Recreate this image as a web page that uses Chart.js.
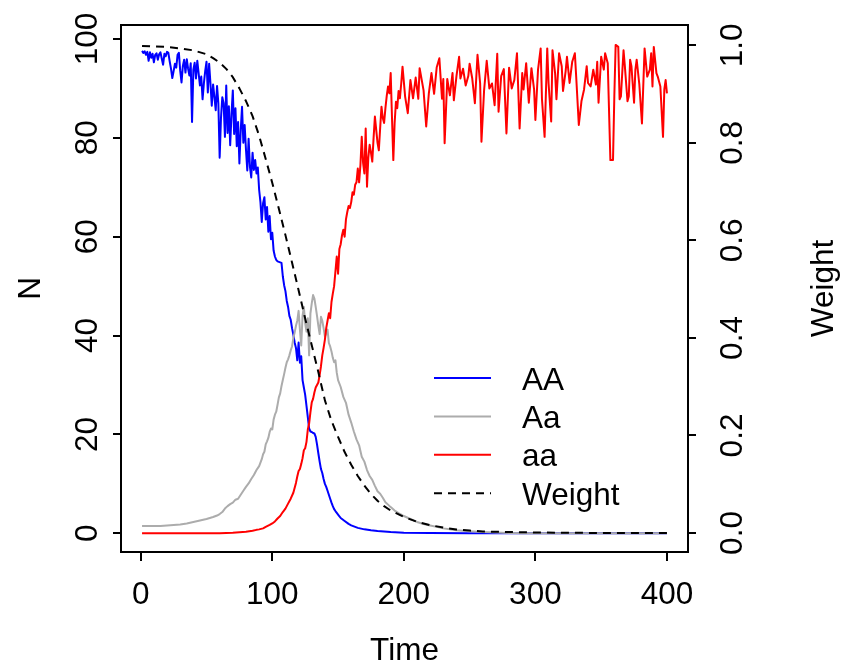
<!DOCTYPE html>
<html>
<head>
<meta charset="utf-8">
<script src="https://cdn.jsdelivr.net/npm/chart.js@4.4.0/dist/chart.umd.min.js"></script>
<style>
	html, body { margin: 0; padding: 0; background: #fff; }
	canvas { display: block; }
</style>
</head>
<body>
<canvas id="chart" width="844" height="668"></canvas>
<script>
// values
var xTicks = [0, 100, 200, 300, 400];
var nTicks = [0, 20, 40, 60, 80, 100];
var weightTicks = [0, 0.2, 0.4, 0.6, 0.8, 1.0];
var seriesNames = ['AA', 'Aa', 'aa', 'Weight'];

var timeAA = [1, 2, 3, 4, 5, 6, 7, 8, 9, 10, 11, 12, 13, 14, 15, 16, 17, 18, 19, 20,
	21, 22, 23, 24, 25, 26, 27, 28, 29, 30, 31, 32, 33, 34, 35, 36, 37, 38, 39, 40,
	41, 42, 43, 44, 45, 46, 47, 48, 49, 50, 51, 52, 53, 54, 55, 56, 57, 58, 59, 60,
	61, 62, 63, 64, 65, 66, 67, 68, 69, 70, 71, 72, 73, 74, 75, 76, 77, 78, 79, 80,
	81, 82, 83, 84, 85, 86, 87, 88, 89, 90, 91, 92, 93, 94, 95, 96, 97, 98, 99, 100,
	101, 102, 103, 104, 105, 106, 107, 108, 109, 110, 111, 112, 113, 114, 115, 116, 117, 118, 119, 120,
	121, 122, 123, 124, 125, 126, 127, 128, 129, 130, 131, 132, 133, 134, 135, 136, 137, 138, 139, 140,
	141, 142, 143, 144, 145, 146, 147, 148, 150, 152, 155, 158, 160, 165, 170, 175, 180, 190, 200, 220,
	250, 280, 400];
var countAA = [97.6, 97.2, 97.5, 96.8, 97.4, 95.6, 97.3, 96.2, 97.0, 95.3, 96.8, 97.1, 95.8, 96.9, 97.3, 96.0, 94.8, 97.0, 96.5, 97.4,
	97.2, 95.5, 94.0, 92.1, 93.5, 95.0, 94.2, 96.8, 97.2, 93.6, 91.2, 94.5, 95.8, 93.2, 95.9, 94.0, 92.6, 95.1, 83.2, 93.8,
	95.2, 92.0, 95.6, 93.1, 90.6, 92.4, 87.8, 91.0, 93.5, 95.4, 89.2, 95.0, 91.0, 86.5, 90.8, 88.3, 85.6, 90.5, 87.0, 76.0,
	84.0, 88.2, 87.0, 80.2, 90.6, 81.0, 86.4, 78.5, 84.8, 89.6, 80.8, 86.0, 78.3, 83.2, 74.8, 81.5, 86.3, 79.0, 82.6, 77.6,
	73.4, 79.8, 74.2, 72.0, 77.0, 73.5, 75.5, 72.8, 74.0, 69.5, 67.0, 63.0, 66.8, 68.0, 63.5, 66.0, 61.0, 64.2, 59.5, 60.8,
	57.2, 56.0, 55.3, 55.0, 54.9, 54.8, 54.7, 52.0, 50.2, 49.0, 47.0, 45.8, 44.0, 43.2, 41.5, 40.2, 38.6, 37.5, 35.0, 38.6,
	34.5, 35.8, 31.0, 29.5, 28.0, 25.8, 23.5, 21.2, 20.6, 20.5, 20.3, 20.2, 19.5, 18.0, 16.2, 14.5, 13.0, 12.2, 11.0, 10.0,
	9.4, 8.6, 7.8, 7.0, 6.2, 5.5, 4.9, 4.5, 3.8, 3.1, 2.5, 1.9, 1.6, 1.1, 0.8, 0.6, 0.45, 0.25, 0.12, 0.05,
	0.02, 0, 0];

var timeHet = [1, 5, 10, 15, 20, 25, 30, 35, 40, 45, 50, 55, 58, 60, 62, 64, 66, 68, 70, 72,
	74, 76, 78, 80, 82, 84, 86, 88, 90, 92, 93, 94, 95, 96, 97, 98, 99, 100, 101, 102,
	103, 104, 105, 106, 107, 108, 109, 110, 111, 112, 113, 114, 115, 116, 117, 118, 119, 120, 121, 122,
	123, 124, 125, 126, 127, 128, 129, 130, 131, 132, 133, 134, 135, 136, 137, 138, 139, 140, 141, 142,
	143, 144, 145, 146, 147, 148, 149, 150, 152, 154, 156, 158, 160, 162, 164, 166, 168, 170, 172, 174,
	176, 178, 180, 182, 184, 186, 188, 190, 193, 196, 200, 205, 210, 215, 220, 225, 230, 240, 250, 260,
	270, 280, 290, 300, 400];
var countHet = [1.5, 1.5, 1.5, 1.5, 1.6, 1.7, 1.8, 2.0, 2.3, 2.6, 2.9, 3.3, 3.6, 3.9, 4.3, 5.0, 5.5, 5.9, 6.2, 6.8,
	7.0, 7.8, 8.6, 9.4, 10.1, 11.0, 11.8, 12.8, 13.6, 15.0, 16.0, 16.5, 18.0, 18.6, 19.3, 20.5, 21.2, 21.0, 23.0, 24.0,
	24.6, 26.0, 27.5, 28.3, 29.8, 31.0, 32.2, 33.5, 34.6, 35.2, 36.0, 37.0, 37.8, 39.5, 40.6, 42.0, 43.0, 45.0, 41.2, 38.0,
	44.0, 45.8, 42.5, 40.8, 43.5, 36.0, 44.5, 46.5, 48.2, 47.5, 45.8, 44.0, 42.0, 40.3, 43.8, 43.0, 41.5, 39.8, 40.5, 41.2,
	38.5, 37.8, 36.8, 35.5, 34.6, 35.0, 32.5, 31.0, 29.6, 27.6, 26.4, 24.0, 22.4, 20.6, 19.0, 17.8, 15.5, 14.5, 12.8, 11.6,
	10.8, 9.6, 8.5, 8.0, 7.2, 6.3, 5.8, 5.3, 4.6, 4.1, 3.5, 2.9, 2.3, 1.9, 1.6, 1.3, 1.0, 0.6, 0.4, 0.25,
	0.15, 0.06, 0.02, 0, 0];

var timeaa = [1, 60, 65, 70, 75, 80, 85, 88, 90, 93, 95, 98, 100, 102, 104, 106, 108, 110, 112, 114,
	116, 118, 119, 120, 121, 122, 123, 124, 125, 126, 127, 128, 129, 130, 131, 132, 133, 134, 135, 136,
	137, 138, 139, 140, 141, 142, 143, 144, 145, 146, 147, 148, 149, 150, 151, 152, 153, 154, 155, 156,
	157, 158, 159, 160, 161, 162, 163, 164, 165, 166, 167, 168, 169, 170, 171, 172, 173, 174, 175, 176,
	177, 178, 179, 180, 181, 182, 183, 184, 185, 186, 187, 188, 189, 190, 191, 192, 193, 194, 195, 196,
	197, 198, 199, 201, 203, 205, 207, 209, 211, 212, 215, 217, 219, 221, 223, 225, 227, 229, 230, 231,
	233, 235, 237, 238, 240, 242, 243, 245, 247, 249, 250, 252, 254, 256, 258, 259, 261, 263, 265, 267,
	269, 271, 272, 274, 276, 278, 280, 282, 284, 286, 288, 290, 291, 293, 295, 297, 299, 300, 302, 304,
	305, 307, 309, 310, 312, 313, 315, 316, 318, 320, 321, 323, 324, 326, 328, 330, 331, 333, 335, 337,
	339, 340, 342, 344, 346, 347, 348, 350, 352, 353, 355, 357, 359, 360, 361, 363, 364, 365, 367, 368,
	370, 371, 372, 373, 375, 376, 377, 379, 381, 383, 385, 387, 388, 389, 390, 392, 393, 395, 397, 398,
	399, 400];
var countaa = [0, 0, 0.05, 0.1, 0.2, 0.3, 0.5, 0.7, 0.8, 1.0, 1.3, 1.7, 2.0, 2.4, 3.0, 3.5, 4.3, 5.0, 6.0, 7.0,
	8.2, 10.2, 11.5, 12.6, 13.0, 14.0, 15.2, 16.8, 17.2, 18.5, 21.0, 22.2, 24.5, 26.5, 27.2, 28.5, 29.5, 30.0, 30.5, 32.0,
	33.8, 36.0, 37.5, 39.2, 41.5, 43.0, 44.5, 43.5, 46.8, 48.5, 50.0, 53.0, 56.0, 52.5, 57.5, 58.5, 60.3, 61.4, 60.0, 63.5,
	65.0, 66.2, 65.8, 67.0, 69.0, 68.5, 70.5, 71.0, 73.8, 71.0, 74.5, 80.2, 75.0, 72.8, 81.9, 70.1, 76.0, 78.6, 77.0, 75.2,
	80.0, 84.3, 81.6, 79.0, 77.5, 82.0, 86.3, 84.0, 83.0, 86.0, 88.5, 90.4, 89.0, 93.1, 84.0, 75.5, 83.0, 87.3, 86.0, 89.5,
	88.0, 91.0, 94.4, 88.3, 85.0, 91.7, 88.0, 92.2, 87.9, 94.1, 89.6, 82.3, 89.0, 93.1, 88.9, 94.3, 96.1, 87.9, 91.9, 78.9,
	91.9, 88.6, 93.1, 87.6, 92.5, 96.4, 92.0, 94.0, 90.6, 92.5, 95.0, 92.0, 87.0, 96.8, 91.0, 79.2, 89.6, 95.6, 90.0, 91.0,
	86.6, 97.0, 85.3, 92.5, 93.9, 80.9, 94.2, 90.0, 91.7, 97.1, 81.9, 93.1, 89.8, 95.1, 87.1, 94.1, 89.8, 83.6, 93.8, 98.1,
	87.8, 80.2, 98.1, 91.1, 83.3, 97.7, 93.0, 87.8, 97.1, 94.5, 89.5, 93.5, 96.4, 91.1, 95.4, 97.1, 92.4, 82.6, 87.4, 89.8,
	94.5, 91.1, 90.4, 93.8, 90.8, 95.4, 87.1, 96.4, 93.8, 97.1, 95.1, 75.5, 75.5, 88.4, 98.8, 98.4, 87.8, 88.4, 97.7, 94.5,
	87.4, 88.4, 95.8, 94.5, 87.1, 93.8, 95.8, 90.8, 82.9, 98.1, 92.4, 93.8, 97.1, 90.4, 98.4, 93.1, 92.4, 90.4, 80.2, 89.8,
	91.7, 89.0];

var timeWeight = [1, 10, 20, 30, 40, 50, 55, 60, 65, 70, 75, 80, 85, 90, 95, 100, 105, 110, 115, 120,
	125, 130, 135, 140, 145, 150, 155, 160, 165, 170, 175, 180, 185, 190, 200, 210, 220, 230, 240, 250,
	260, 280, 300, 350, 400];
var weight = [0.999, 0.998, 0.997, 0.994, 0.990, 0.982, 0.974, 0.965, 0.952, 0.935, 0.912, 0.886, 0.855, 0.815, 0.767, 0.718, 0.665, 0.611, 0.555, 0.498,
	0.440, 0.385, 0.330, 0.272, 0.230, 0.197, 0.166, 0.140, 0.117, 0.097, 0.080, 0.066, 0.055, 0.046, 0.033, 0.023, 0.016, 0.011, 0.007, 0.005,
	0.003, 0.002, 0.001, 0, 0];

var FONT = '31.5px "Liberation Sans", Arial, sans-serif';

function pairUp(times, values) {
	return times.map(function(t, i) {
		return { x: t, y: values[i] };
	});
}

function fixTicks(list) {
	return function(scale) {
		scale.ticks = list.map(function(v) { return { value: v }; });
	};
}

function rotText(ctx, text, x, y) {
	ctx.save();
	ctx.translate(x, y);
	ctx.rotate(-Math.PI / 2);
	ctx.fillText(text, 0, 0);
	ctx.restore();
}

var decor = {
	id: 'decor',
	afterDraw: function(chart) {
		var ctx = chart.ctx;
		var area = chart.chartArea;
		var sx = chart.scales.x;
		var sy = chart.scales.y;
		var sw = chart.scales.y1;
		var midY = (area.top + area.bottom) / 2;

		ctx.save();
		ctx.strokeStyle = '#000';
		ctx.lineWidth = 2;
		ctx.strokeRect(area.left, area.top, area.right - area.left, area.bottom - area.top);

		ctx.fillStyle = '#000';
		ctx.font = FONT;
		ctx.textAlign = 'center';
		ctx.textBaseline = 'alphabetic';
		xTicks.forEach(function(v) {
			ctx.fillText(String(v), sx.getPixelForValue(v), 604);
		});
		nTicks.forEach(function(v) {
			rotText(ctx, String(v), 97, sy.getPixelForValue(v));
		});
		weightTicks.forEach(function(v) {
			rotText(ctx, v.toFixed(1), 742, sw.getPixelForValue(v));
		});
		ctx.fillText('Time', (area.left + area.right) / 2, 660);
		rotText(ctx, 'N', 40, midY);
		rotText(ctx, 'Weight', 833, midY);

		// legend, no box
		ctx.textAlign = 'left';
		chart.data.datasets.forEach(function(ds, i) {
			var ly = 378 + i * 38.4;
			ctx.save();
			ctx.strokeStyle = ds.borderColor;
			ctx.lineWidth = 2;
			ctx.setLineDash(ds.borderDash || []);
			ctx.beginPath();
			ctx.moveTo(434, ly);
			ctx.lineTo(491, ly);
			ctx.stroke();
			ctx.restore();
			ctx.fillText(ds.label, 522, ly + 11.5);
		});
		ctx.restore();
	}
};

var lineBase = {
	borderWidth: 2,
	pointRadius: 0,
	fill: false,
	tension: 0,
	borderJoinStyle: 'round'
};

new Chart(document.getElementById('chart'), {
	type: 'line',
	data: {
		datasets: [
			Object.assign({ label: seriesNames[0], data: pairUp(timeAA, countAA), borderColor: '#0000ff', yAxisID: 'y', order: 3 }, lineBase),
			Object.assign({ label: seriesNames[1], data: pairUp(timeHet, countHet), borderColor: '#acacac', yAxisID: 'y', order: 2 }, lineBase),
			Object.assign({ label: seriesNames[2], data: pairUp(timeaa, countaa), borderColor: '#ff0000', yAxisID: 'y', order: 1 }, lineBase),
			Object.assign({ label: seriesNames[3], data: pairUp(timeWeight, weight), borderColor: '#000000', borderDash: [8, 6], yAxisID: 'y1', order: 0 }, lineBase)
		]
	},
	options: {
		responsive: false,
		animation: false,
		devicePixelRatio: 1,
		layout: { padding: { top: 25, left: 0, right: 0, bottom: 0 } },
		plugins: {
			legend: { display: false },
			tooltip: { enabled: false }
		},
		scales: {
			x: {
				type: 'linear',
				position: 'bottom',
				min: -15,
				max: 416,
				afterBuildTicks: fixTicks(xTicks),
				afterFit: function(s) { s.height = 116; },
				ticks: { display: false },
				border: { display: false },
				grid: { drawOnChartArea: false, drawTicks: true, tickLength: 9, color: '#000', lineWidth: 2 }
			},
			y: {
				type: 'linear',
				position: 'left',
				min: -3.78,
				max: 102.83,
				afterBuildTicks: fixTicks(nTicks),
				afterFit: function(s) { s.width = 121; },
				ticks: { display: false },
				border: { display: false },
				grid: { drawOnChartArea: false, drawTicks: true, tickLength: 8, color: '#000', lineWidth: 2 }
			},
			y1: {
				type: 'linear',
				position: 'right',
				min: -0.039,
				max: 1.042,
				afterBuildTicks: fixTicks(weightTicks),
				afterFit: function(s) { s.width = 156; },
				ticks: { display: false },
				border: { display: false },
				grid: { drawOnChartArea: false, drawTicks: true, tickLength: 8, color: '#000', lineWidth: 2 }
			}
		}
	},
	plugins: [decor]
});
</script>
</body>
</html>
